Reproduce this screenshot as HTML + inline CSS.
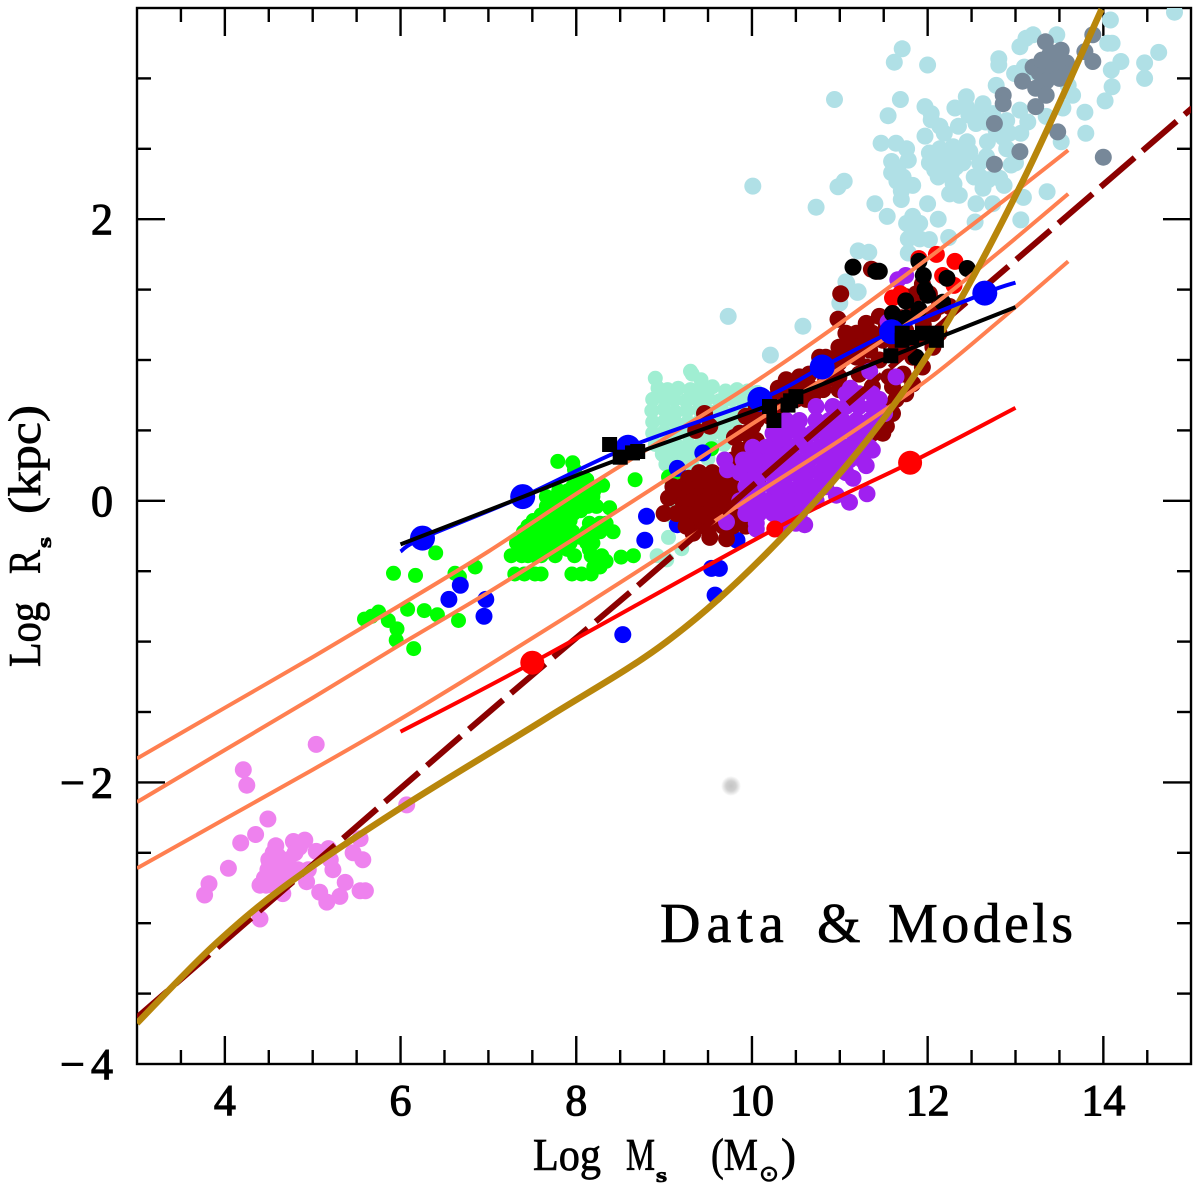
<!DOCTYPE html>
<html lang="en">
<head>
<meta charset="utf-8">
<title>Data &amp; Models</title>
<style>
html,body{margin:0;padding:0;background:#fff;}
svg{display:block;}
text{font-family:"Liberation Serif",serif;fill:#000;stroke:#000;stroke-width:0.7px;}
</style>
</head>
<body>
<svg id="chart" xmlns="http://www.w3.org/2000/svg" width="1200" height="1198" viewBox="0 0 1200 1198">
  <defs>
    <clipPath id="plot-clip"><rect x="137" y="8" width="1054" height="1056"/></clipPath>
    <radialGradient id="smudge-fill"><stop offset="0" stop-color="#c4c4c4"/><stop offset="0.5" stop-color="#d0d0d0"/><stop offset="1" stop-color="#fff"/></radialGradient>
  </defs>
  <rect width="1200" height="1198" fill="#fff"/>
  <g id="axes"></g>
  <g id="marks" clip-path="url(#plot-clip)"></g>
  <g transform="translate(40,0)">
    <text transform="translate(0,667) rotate(-90)" font-size="45" textLength="65" lengthAdjust="spacingAndGlyphs">Log</text>
    <text transform="translate(0,574) rotate(-90)" font-size="45" textLength="24" lengthAdjust="spacingAndGlyphs">R</text>
    <text transform="translate(11,548) rotate(-90)" font-size="20" font-weight="bold" textLength="11" lengthAdjust="spacingAndGlyphs">s</text>
    <text transform="translate(0,514) rotate(-90)" font-size="45" textLength="109" lengthAdjust="spacingAndGlyphs">(kpc)</text>
  </g>
  <g>
    <text x="533" y="1170" font-size="45" textLength="68" lengthAdjust="spacingAndGlyphs">Log</text>
    <text x="626" y="1170" font-size="45" textLength="29" lengthAdjust="spacingAndGlyphs">M</text>
    <text x="656" y="1182" font-size="20" font-weight="bold" textLength="11" lengthAdjust="spacingAndGlyphs">s</text>
    <text x="711" y="1170" font-size="45" textLength="47" lengthAdjust="spacingAndGlyphs">(M</text>
    <text x="759" y="1181" font-size="22" style="font-family:'DejaVu Sans',sans-serif" textLength="20" lengthAdjust="spacingAndGlyphs">⊙</text>
    <text x="781" y="1170" font-size="45" textLength="15" lengthAdjust="spacingAndGlyphs">)</text>
  </g>
  <text y="942" font-size="56"><tspan x="660" letter-spacing="6">Data</tspan><tspan x="818"> </tspan><tspan x="817">&amp;</tspan><tspan x="888" letter-spacing="3.4">Models</tspan></text>
  <circle cx="731" cy="786" r="10" fill="url(#smudge-fill)"/>
</svg>
<script>
/* ---------- axis data ---------- */
const xTickLabels = [4, 6, 8, 10, 12, 14];
const yTickLabels = [-4, -2, 0, 2];
const xMinorTicks = [3.5,4,4.5,5,5.5,6,6.5,7,7.5,8,8.5,9,9.5,10,10.5,11,11.5,12,12.5,13,13.5,14,14.5];
const yMinorTicks = [-3.5,-3,-2.5,-2,-1.5,-1,-0.5,0,0.5,1,1.5,2,2.5,3];

/* ---------- point clouds: [log mass, log radius] ---------- */
const aquaPoints = [
[8.9,0.87],[8.93,0.8],[9.04,0.79],[9.16,0.8],[9.3,0.79],[9.44,0.8],[9.55,0.81],[9.7,0.78],[9.83,0.79],[9.95,0.78],[10.06,0.77],
[8.87,0.72],[9,0.73],[9.12,0.72],[9.25,0.71],[9.38,0.72],[9.5,0.73],[9.63,0.71],[9.77,0.72],[9.9,0.7],[10.02,0.71],
[8.86,0.64],[9,0.65],[9.13,0.63],[9.26,0.64],[9.4,0.65],[9.53,0.63],[9.66,0.64],[9.79,0.62],[9.92,0.63],
[8.87,0.56],[9.01,0.57],[9.14,0.55],[9.27,0.56],[9.41,0.57],[9.54,0.55],[9.67,0.56],[9.8,0.54],
[8.87,0.48],[9,0.49],[9.13,0.47],[9.26,0.48],[9.4,0.48],[9.53,0.47],[9.66,0.48],[9.78,0.46],
[8.9,0.4],[9.02,0.41],[9.15,0.39],[9.28,0.4],[9.42,0.4],[9.55,0.39],[9.68,0.4],
[8.98,0.33],[9.1,0.32],[9.24,0.31],[9.38,0.33],[9.5,0.3],
[9.02,0.26],[9.18,0.24],[9.32,0.25],[9.32,0.9],[9.42,0.86],
[9.11,-0.01],[9.05,-0.26],[9.2,-0.34],[9.03,-0.42],[8.92,-0.39],[9.12,-0.13],[9.3,0.92]
];
const lightBluePoints = [
[14.81,3.47],[14.08,3.415],[13.2,3.31],[13.12,3.285],[13.05,3.225],[13.47,3.31],[14.1,3.25],[14.05,3.25],[14.63,3.185],
[11.71,3.21],[11.62,3.115],[12,3.095],[12.81,3.14],[12.81,3.095],[12.99,3.035],[14.2,3.12],[14.09,3.06],[14.47,3.11],[14.47,3],
[14.1,2.94],[14.02,2.84],[12.78,2.95],[10.94,2.85],[11.69,2.85],[11.55,2.735],[13.65,2.88],[13.54,2.79],[13.79,2.76],[13.8,2.61],
[13.52,2.55],[13.35,2.73],[11.97,2.8],[12.04,2.75],[12.04,2.705],[12.14,2.66],[12.19,2.61],[11.97,2.59],[12.35,2.66],
[12.31,2.79],[12.44,2.87],[12.44,2.8],[12.55,2.75],[12.55,2.68],[12.63,2.82],[12.74,2.75],[12.93,2.61],[13.06,2.61],[12.78,2.63],
[12.9,2.7],[13.05,2.775],[13.14,2.69],[11.47,2.54],[11.64,2.54],[11.76,2.5],[12.02,2.47],[12.14,2.5],[12.02,2.4],[12.14,2.4],
[12.29,2.515],[12.38,2.46],[12.48,2.48],[12.4,2.4],[12.67,2.445],[12.59,2.4],[12.95,2.385],[11.59,2.41],[11.66,2.36],[11.59,2.33],
[11.72,2.3],[12.12,2.3],[12.27,2.33],[12.29,2.255],[12.53,2.3],[12.69,2.28],[12.82,2.29],[12.87,2.24],[12.63,2.22],[11.83,2.24],
[11.7,2.2],[11.7,2.14],[12.25,2.18],[12.36,2.17],[11.05,2.27],[10.98,2.23],[10.73,2.085],[11.4,2.11],[11.54,2.02],[12,2.11],
[12.12,2],[12.55,2.11],[12.74,2.11],[12.54,1.98],[13.09,2.155],[13.36,2.195],[13.06,1.995],[11.83,2.02],[11.76,1.97],[11.91,1.97],
[11.83,1.92],[11.78,1.86],[11.91,1.86],[12.02,1.855],[12.24,1.87],[11.21,1.775],[11.33,1.765],[11.78,1.76],[11.21,1.485],[11.07,1.555],
[9.73,1.31],[10.58,1.24],[10.21,1.035],[11.08,1.545],[11.2,1.48],[11,1.405],[10.01,2.235],[12.2,2.45],[12.25,2.38],
[12.45,2.55],[12.68,2.55],[12.9,2.5],[13,2.4],[13.2,3.05],[13.1,3.08],[13.6,2.95],[12.3,2.25],[12.6,2.3],[11.65,2.27],[11.78,2.42],
[12.47,2.74],[12.66,2.69],[12.86,2.58],[12.25,2.44],[12.32,2.37],[12.08,2.35]
];
const grayPoints = [
[13.88,3.31],[13.34,3.26],[13.52,3.2],[13.79,3.19],[13.2,3.08],[13.35,3.08],[13.5,3.13],[13.58,3.11],[13.39,3.17],[13.88,3.12],
[13.27,3.04],[13.42,3.04],[13.58,3.025],[13.35,2.98],[13.08,2.98],[13.23,2.93],[13.35,2.88],[12.86,2.88],[12.86,2.82],[13.23,2.8],
[12.76,2.68],[13.48,2.62],[13.05,2.48],[12.76,2.39],[14,2.44],[13.47,3.1],[13.3,3.13],[13.45,3.18],[13.5,3]
];
const violetPoints = [
[5.04,-1.73],[4.21,-1.91],[4.25,-2.02],[4.49,-2.26],[4.35,-2.37],[4.18,-2.43],[4.04,-2.61],[3.82,-2.72],[3.77,-2.8],
[4.55,-2.5],[4.51,-2.575],[4.63,-2.575],[4.49,-2.62],[4.61,-2.645],[4.7,-2.63],[4.55,-2.695],[4.4,-2.73],[4.55,-2.73],[4.66,-2.79],
[4.78,-2.42],[4.91,-2.41],[4.8,-2.5],[5.04,-2.49],[5.18,-2.47],[5.2,-2.55],[5.23,-2.62],[4.83,-2.62],[4.93,-2.705],[5.37,-2.71],
[5.08,-2.78],[5.16,-2.85],[5.31,-2.81],[5.54,-2.77],[5.6,-2.77],[5.46,-2.5],[5.57,-2.55],[5.54,-2.4],[4.4,-2.97],[6.07,-2.16],[4.58,-2.45],
[4.6,-2.52],[4.45,-2.68],[4.65,-2.7],[4.5,-2.55],[4.72,-2.55],[4.85,-2.46],[4.47,-2.73],[5.13,-2.5],[4.95,-2.62]
];
const greenPoints = [
[6.4,-0.37],[5.92,-0.515],[6.17,-0.53],[6.62,-0.515],[6.67,-0.54],[6.85,-0.47],[6.08,-0.77],[6.27,-0.78],[6.42,-0.81],[6.66,-0.85],
[5.59,-0.84],[5.75,-0.79],[5.67,-0.82],[5.86,-0.85],[5.96,-0.91],[5.95,-0.99],[6.15,-1.05],
[7.79,0.28],[7.96,0.27],[7.98,0.22],[8.67,0.15],[9.05,0.17],[8.38,-0.05],[8.51,-0.4],[8.65,-0.39],[9.54,0.37],[9.19,0.17],
[8.04,0.15],[8.12,0.15],[7.96,0.1],[8.12,0.1],[8.3,0.11],[7.8,0.07],[7.9,0.07],[8.05,0.07],[8.2,0.07],
[7.66,0.03],[7.78,0.03],[7.89,0.03],[8.04,0.03],[8.19,0.03],[7.72,0],[7.95,0],[8.12,0],
[7.66,-0.04],[7.81,-0.04],[7.96,-0.04],[8.13,-0.04],[8.23,-0.04],[7.72,-0.07],[7.88,-0.07],[8.05,-0.07],
[7.6,-0.1],[7.72,-0.1],[7.85,-0.1],[7.97,-0.09],
[7.51,-0.14],[7.66,-0.14],[7.81,-0.14],[7.93,-0.14],[8.15,-0.16],[8.27,-0.16],[8.34,-0.16],[7.45,-0.18],[7.6,-0.18],[7.75,-0.18],[7.9,-0.18],
[7.4,-0.22],[7.55,-0.22],[7.7,-0.22],[7.85,-0.22],[7.96,-0.22],[8.12,-0.22],[8.27,-0.22],[8.42,-0.22],
[7.45,-0.26],[7.6,-0.26],[7.75,-0.26],[7.9,-0.26],[8.05,-0.26],[8.15,-0.26],
[7.32,-0.3],[7.51,-0.3],[7.66,-0.3],[7.81,-0.3],[7.93,-0.3],[8.12,-0.3],[8.19,-0.3],[7.4,-0.345],[7.6,-0.345],[7.75,-0.345],[7.9,-0.345],[8.15,-0.345],
[7.26,-0.39],[7.38,-0.39],[7.45,-0.39],[7.53,-0.39],[7.6,-0.39],[7.76,-0.39],[7.98,-0.39],[8.17,-0.39],[8.29,-0.39],
[8.23,-0.43],[8.34,-0.43],[8.2,-0.47],[8.27,-0.47],
[7.3,-0.52],[7.41,-0.52],[7.53,-0.52],[7.6,-0.52],[7.95,-0.52],[8.06,-0.52],[8.17,-0.52]
];
const bluePoints = [
[8.8,-0.11],[8.78,-0.28],[6.68,-0.6],[6.55,-0.7],[6.97,-0.7],[6.95,-0.82],[8.53,-0.95],[9.15,0.23],[9.44,0.34],[9.15,-0.17],
[9.83,-0.28],[9.54,-0.48],[9.63,-0.48],[9.58,-0.67]
];
const brownPoints = [
[9.46,0.62],[9.36,0.5],[9.52,0.53],[11.01,1.47],[10.98,1.29],[11.36,1.645],[11.42,1.63],[9,-0.09],
[9.93,0.6],[10.05,0.67],[10.24,0.72],[10.39,0.86],[10.54,0.88],[10.65,0.9],[10.84,1.02],[10.99,1.09],[11.15,1.14],[11.3,1.26],
[11.45,1.31],[11.19,1.19],[11.07,1.19],[11.37,1.19],[11.53,1.24],[11.6,1.33],[11.75,1.45],[11.94,1.54],[11.87,1.47],[12.02,1.47],
[12.13,1.38],[12.25,1.38],[12.06,1.33],[11.83,1.35],[12.13,1.19],[12.06,1.09],[11.94,0.95],[11.83,0.83],[11.64,0.72],[11.53,0.67],
[11.6,0.62],[11.49,0.48],[11.37,0.48],[11.26,0.5],[11.56,0.88],[11.45,1],[11.34,1.07],[11.07,1.05],[10.88,1],[10.77,1.02],
[10.54,0.83],[10.39,0.76],[10.62,0.72],[10.81,0.79],[10.99,0.88],[11.22,0.9],[11.37,0.81],[10.05,0.57],[9.93,0.48],[9.86,0.36],
[10.05,0.43],[9.78,0.29],[9.63,0.15],[9.78,0.1],[9.48,0.12],[9.21,0.1],[9.1,0.1],[9.33,0.05],[9.21,0],[9.36,-0.02],[9.52,0],
[9.67,0],[9.36,-0.09],[9.52,-0.09],[9.21,-0.09],[9.14,-0.09],[9.4,-0.18],[9.52,-0.26],[9.71,-0.27],[9.33,-0.23],[9.67,-0.18],
[9.82,-0.11],[9.93,-0.14],[9.86,0],[9.97,0.08],[10.12,0.24],[10.08,0.17],[10.24,0.29],[9.67,-0.07],[9.4,0.2],[9.93,-0.18],
[10.2,0.6],[10.3,0.8],[9.8,0.45],[9.95,0.3],[11.7,1.08],[11.85,1.15],[11.95,1.25],[11.7,1.3],[9.05,0.02],[9.28,0.16],[9.55,0.2],
[9.4,0.16],[9.52,0.16],[9.18,0.08],[9.29,0.08],[9.44,0.08],[9.55,0.08],[9.71,0.08],[9.82,0.08],
[9.29,-0.01],[9.44,-0.01],[9.59,-0.01],[9.74,-0.01],[9.29,-0.1],[9.44,-0.1],[9.59,-0.1],[9.74,-0.1],[9.9,-0.1],[9.25,-0.18],[9.52,-0.18],[9.78,-0.18],
[9.86,0.48],[10.01,0.53],[10.16,0.62],[10.31,0.67],[10.46,0.79],[10.65,0.81],[10.84,0.86],[10.99,0.98],[11.19,1.02],[11.34,1.14],[11.49,1.14],
[11.64,1.07],[11.75,1.21],[11.91,1.33],[11.98,1.19],[11.83,1.02],[11.72,0.9],[11.75,0.76],[11.6,0.81],[11.45,0.67],[11.53,0.53],[9.97,0.38],
[9.86,0.24],[9.74,0.17],[11.19,1.09],[11.3,0.95],[10.99,0.79],[10.69,0.74],[10.5,0.72]
];
const purplePoints = [
[11.66,1.57],[11.75,1.6],[11.55,1.27],[11.34,0.92],[11.64,0.88],[11.12,0.8],[9.69,0.29],[9.72,0.22],[9.71,-0.15],[10.05,-0.2],
[10.6,-0.17],[10.96,0.04],[11.11,-0.01],[11.31,0.05],[11.15,0.16],[11.3,0.25],[11.37,0.36],[11.51,0.62],
[11.07,0.76],[11.22,0.76],[11.37,0.76],[11.45,0.72],[11.42,0.6],
[10.73,0.67],[10.92,0.67],[11.07,0.67],[11.22,0.67],[11.37,0.67],
[10.39,0.57],[10.54,0.57],[10.73,0.57],[10.88,0.57],[11.03,0.57],[11.19,0.57],[11.34,0.57],[10.5,0.52],[10.8,0.52],[11.1,0.52],
[10.24,0.48],[10.39,0.48],[10.54,0.48],[10.69,0.48],[10.84,0.48],[10.99,0.48],[11.15,0.48],[11.3,0.48],[10.3,0.43],[10.6,0.43],[10.9,0.43],[11.2,0.43],
[10.01,0.38],[10.16,0.38],[10.31,0.38],[10.46,0.38],[10.62,0.38],[10.77,0.38],[10.92,0.38],[11.07,0.38],[11.22,0.38],[11.34,0.38],
[10.1,0.33],[10.4,0.33],[10.7,0.33],[11,0.33],[11.2,0.33],
[9.9,0.29],[10.05,0.29],[10.2,0.29],[10.35,0.29],[10.5,0.29],[10.65,0.29],[10.81,0.29],[10.96,0.29],[11.11,0.29],[11.26,0.29],
[10,0.24],[10.3,0.24],[10.6,0.24],[10.9,0.24],
[9.86,0.2],[10.01,0.2],[10.16,0.2],[10.31,0.2],[10.46,0.2],[10.62,0.2],[10.77,0.2],[10.92,0.2],[11.07,0.2],
[10,0.15],[10.3,0.15],[10.6,0.15],[10.85,0.15],
[9.93,0.1],[10.08,0.1],[10.24,0.1],[10.39,0.1],[10.54,0.1],[10.69,0.1],[10.84,0.1],
[10,0.05],[10.3,0.05],[10.55,0.05],
[9.86,0],[10.01,0],[10.16,0],[10.31,0],[10.46,0],[10.62,0],[10.73,0],
[9.93,-0.09],[10.08,-0.09],[10.24,-0.09],[10.39,-0.09],[10.54,-0.09],
[10.05,-0.16],[10.35,-0.16],[10.5,-0.16]
];
const redDotPoints = [
[11.9,1.72],[12.1,1.75],[12.31,1.7],[12.17,1.6],[12.3,1.53],[11.69,1.47],[11.6,1.44],[10.26,-0.2]
];
const blackDotPoints = [
[11.15,1.66],[11.41,1.63],[11.45,1.63],[11.9,1.7],[11.95,1.6],[11.97,1.5],[12,1.46],[12.22,1.58],[12.45,1.65],
[11.75,1.42],[11.6,1.33],[11.75,1.3],[11.9,1.36],[12.17,1.41],[11.87,1.02]
];

/* ---------- fitted relations ---------- */
const modelX = [3, 4, 5, 6, 7, 8, 9, 10, 11, 12, 12.8, 13.6];
const coralUpper = [-1.83, -1.47, -1.11, -0.74, -0.36, 0.05, 0.44, 0.83, 1.26, 1.72, 2.1, 2.49];
const coralMiddle = [-2.14, -1.77, -1.4, -1.02, -0.65, -0.26, 0.14, 0.545, 0.94, 1.36, 1.76, 2.18];
const coralLower = [-2.61, -2.26, -1.91, -1.55, -1.17, -0.78, -0.38, 0.03, 0.43, 0.86, 1.27, 1.7];

const dashedX = [3, 5.34, 7.25, 8.65, 10.55, 12.91, 15.01];
const dashedY = [-3.67, -2.40, -1.37, -0.63, 0.40, 1.66, 2.79];

const goldX = [3, 3.87, 4.74, 6.03, 7.67, 9.03, 10.17, 11.31, 12.17, 13.09, 13.98];
const goldY = [-3.71, -3.16, -2.71, -2.17, -1.54, -1, -0.37, 0.43, 1.21, 2.28, 3.49];

const redX = [6, 7.5, 10.26, 11.8, 13];
const redY = [-1.64, -1.15, -0.2, 0.27, 0.66];
const redMarkersX = [7.5, 11.8];
const redMarkersY = [-1.15, 0.27];

const blueX = [6, 6.25, 7.39, 8.59, 10.09, 10.8, 11.59, 12.65, 13];
const blueY = [-0.36, -0.265, 0.03, 0.38, 0.72, 0.95, 1.2, 1.475, 1.55];
const blueMarkersX = [6.25, 7.39, 8.59, 10.09, 10.8, 11.59, 12.65];
const blueMarkersY = [-0.265, 0.03, 0.38, 0.72, 0.95, 1.2, 1.475];

const blackX = [6, 7.4, 8.38, 10.2, 11.6, 13];
const blackY = [-0.31, 0.03, 0.27, 0.68, 1.03, 1.376];
const squareX = [8.38, 8.5, 8.64, 8.7, 10.2, 10.25, 10.44, 10.5, 10.41, 11.58, 11.71, 11.82, 11.94, 12.1, 12.1, 11.71];
const squareY = [0.4, 0.31, 0.34, 0.35, 0.67, 0.57, 0.71, 0.74, 0.68, 1.03, 1.14, 1.16, 1.19, 1.19, 1.14, 1.19];

/* ---------- scales ---------- */
function sx(v) { return 137 + (v - 3) * 87.85; }
function sy(v) { return 1064 - (v + 4) * 140.8; }

const NS = 'http://www.w3.org/2000/svg';
const axesG = document.getElementById('axes');
const marksG = document.getElementById('marks');

function tickLine(x1, y1, x2, y2, name) {
  const l = document.createElementNS(NS, 'line');
  l.setAttribute('x1', x1);
  l.setAttribute('y1', y1);
  l.setAttribute('x2', x2);
  l.setAttribute('y2', y2);
  l.setAttribute('stroke', '#000');
  l.setAttribute('stroke-width', '2.4');
  
  
  axesG.appendChild(l);
}

const frame = document.createElementNS(NS, 'rect');
frame.setAttribute('x', 137);
frame.setAttribute('y', 8);
frame.setAttribute('width', 1054);
frame.setAttribute('height', 1056);
frame.setAttribute('fill', 'none');
frame.setAttribute('stroke', '#000');
frame.setAttribute('stroke-width', '2.4');


axesG.appendChild(frame);

xMinorTicks.forEach(function (v) {
  const len = xTickLabels.indexOf(v) >= 0 ? 28 : 14;
  tickLine(sx(v), 1064, sx(v), 1064 - len, 'x-tick-bottom');
  tickLine(sx(v), 8, sx(v), 8 + len, 'x-tick-top');
});
yMinorTicks.forEach(function (v) {
  const len = yTickLabels.indexOf(v) >= 0 ? 28 : 14;
  tickLine(137, sy(v), 137 + len, sy(v), 'y-tick-left');
  tickLine(1191, sy(v), 1191 - len, sy(v), 'y-tick-right');
});

xTickLabels.forEach(function (v) {
  const t = document.createElementNS(NS, 'text');
  t.setAttribute('x', sx(v));
  t.setAttribute('y', 1115);
  t.setAttribute('text-anchor', 'middle');
  t.setAttribute('font-size', '44');
  t.style.strokeWidth = '1.1px';
  
  
  t.textContent = String(v);
  axesG.appendChild(t);
});
yTickLabels.forEach(function (v) {
  const t = document.createElementNS(NS, 'text');
  t.setAttribute('x', v < 0 ? 119 : 113);
  t.setAttribute('y', sy(v) + 15);
  t.setAttribute('text-anchor', 'end');
  t.setAttribute('font-size', '44');
  t.style.strokeWidth = '1.1px';
  if (v < 0) {
    t.setAttribute('letter-spacing', '6');
  }
  
  
  t.textContent = v < 0 ? '\u2212' + Math.abs(v) : String(v);
  axesG.appendChild(t);
});

function drawDots(points, color, r, name) {
  const g = document.createElementNS(NS, 'g');
  
  
  g.setAttribute('fill', color);
  points.forEach(function (p) {
    const c = document.createElementNS(NS, 'circle');
    c.setAttribute('cx', sx(p[0]).toFixed(1));
    c.setAttribute('cy', sy(p[1]).toFixed(1));
    c.setAttribute('r', r);
    
    
    g.appendChild(c);
  });
  marksG.appendChild(g);
}

function smoothPath(xs, ys) {
  const px = xs.map(sx);
  const py = ys.map(sy);
  let d = 'M' + px[0].toFixed(1) + ' ' + py[0].toFixed(1);
  for (let i = 0; i < px.length - 1; i++) {
    const a = Math.max(i - 1, 0);
    const b = Math.min(i + 2, px.length - 1);
    const c1x = px[i] + (px[i + 1] - px[a]) / 6;
    const c1y = py[i] + (py[i + 1] - py[a]) / 6;
    const c2x = px[i + 1] - (px[b] - px[i]) / 6;
    const c2y = py[i + 1] - (py[b] - py[i]) / 6;
    d += 'C' + c1x.toFixed(1) + ' ' + c1y.toFixed(1) + ' ' + c2x.toFixed(1) + ' ' + c2y.toFixed(1) + ' ' + px[i + 1].toFixed(1) + ' ' + py[i + 1].toFixed(1);
  }
  return d;
}

function drawCurve(xs, ys, color, width, name, dash, offset) {
  const p = document.createElementNS(NS, 'path');
  p.setAttribute('d', smoothPath(xs, ys));
  p.setAttribute('fill', 'none');
  p.setAttribute('stroke', color);
  p.setAttribute('stroke-width', width);
  if (dash) {
    p.setAttribute('stroke-dasharray', dash);
    p.setAttribute('stroke-dashoffset', offset);
  }
  
  
  marksG.appendChild(p);
}

function drawMarkers(xs, ys, color, r, name) {
  xs.forEach(function (x, i) {
    const c = document.createElementNS(NS, 'circle');
    c.setAttribute('cx', sx(x).toFixed(1));
    c.setAttribute('cy', sy(ys[i]).toFixed(1));
    c.setAttribute('r', r);
    c.setAttribute('fill', color);
    
    
    marksG.appendChild(c);
  });
}

drawDots(aquaPoints, '#a0eed2', 7.5, 'aquamarine-galaxies');
drawDots(lightBluePoints, '#b0e0e6', 8.5, 'powder-blue-clusters');
drawDots(grayPoints, '#778899', 8.5, 'slate-gray-clusters');
drawDots(violetPoints, '#ee82ee', 8.5, 'violet-star-clusters');
drawDots(greenPoints, '#00ff00', 7.5, 'green-dwarfs');
drawDots(bluePoints, '#0000ff', 8.5, 'blue-dwarfs');
drawDots(brownPoints, '#8b0000', 8.5, 'dark-red-galaxies');
drawDots(purplePoints, '#a020f0', 8.5, 'purple-galaxies');
drawDots(redDotPoints, '#ff0000', 8.5, 'red-galaxies');
drawDots(blackDotPoints, '#000000', 8.5, 'black-galaxies');

drawCurve(modelX, coralUpper, '#ff7f50', 4, 'coral-model-upper');
drawCurve(modelX, coralMiddle, '#ff7f50', 4, 'coral-model-middle');
drawCurve(modelX, coralLower, '#ff7f50', 4, 'coral-model-lower');
drawCurve(dashedX, dashedY, '#8b0000', 6, 'dashed-model', '45 10.5', 4.5);
drawCurve(redX, redY, '#ff0000', 4, 'red-relation');
drawMarkers(redMarkersX, redMarkersY, '#ff0000', 12, 'red-relation-marker');
drawCurve(goldX, goldY, '#b8860b', 6.5, 'gold-model');
drawCurve(blueX, blueY, '#0000ff', 4, 'blue-relation');
drawMarkers(blueMarkersX, blueMarkersY, '#0000ff', 12.5, 'blue-relation-marker');
drawCurve(blackX, blackY, '#000000', 4, 'black-relation');
squareX.forEach(function (x, i) {
  const s = document.createElementNS(NS, 'rect');
  s.setAttribute('x', (sx(x) - 7.5).toFixed(1));
  s.setAttribute('y', (sy(squareY[i]) - 7.5).toFixed(1));
  s.setAttribute('width', 15);
  s.setAttribute('height', 15);
  s.setAttribute('fill', '#000');
  
  
  marksG.appendChild(s);
});
</script>
</body>
</html>
